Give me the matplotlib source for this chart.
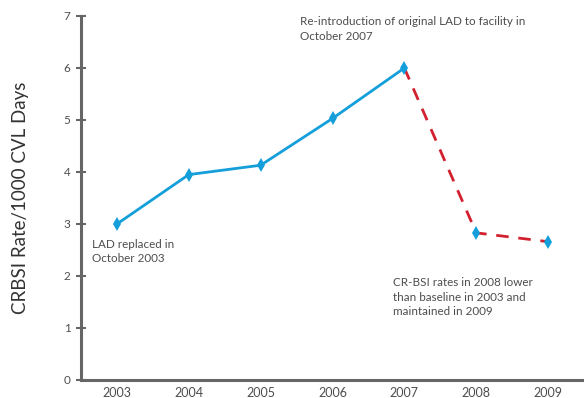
import matplotlib
matplotlib.use('Agg')
import matplotlib.pyplot as plt

plt.rcParams['font.family'] = ['Lato', 'DejaVu Sans']

# CRBSI rates per year
years = [2003, 2004, 2005, 2006, 2007, 2008, 2009]
rates = [3.0, 3.95, 4.13, 5.03, 6.0, 2.83, 2.66]
y_ticks = [0, 1, 2, 3, 4, 5, 6, 7]

blue = '#149fdb'
red = '#d3202f'
grey = '#666666'
text_col = '#4d4d4d'

fig = plt.figure(figsize=(5.84, 3.98), dpi=100)
ax = fig.add_axes([81 / 584, 18 / 398, 1 - 81 / 584, 364 / 398])

# solid segment up to the re-introduction, dashed afterwards
ax.plot(years[:5], rates[:5], '-', color=blue, lw=2.0, zorder=2)
ax.plot(years[4:], rates[4:], '--', color=red, lw=2.0, dashes=(4.5, 3.5), zorder=2)
ax.plot(years, rates, 'd', color=blue, ms=7, mew=0, zorder=3)

ax.set_xlim(2002.5, 2009.5)
ax.set_ylim(0, 7)
ax.set_xticks(years)
ax.set_yticks(y_ticks)
ax.tick_params(axis='x', length=0, pad=5, labelsize=9, labelcolor=text_col)
ax.tick_params(axis='y', direction='inout', length=7, width=1.5, color=grey,
               pad=4, labelsize=8.5, labelcolor=text_col)

for s in ['top', 'right']:
    ax.spines[s].set_visible(False)
for s in ['left', 'bottom']:
    ax.spines[s].set_color(grey)
    ax.spines[s].set_linewidth(2.2)

fig.text(21 / 584, 1 - 198 / 398, 'CRBSI Rate/1000 CVL Days', rotation=90,
         ha='center', va='center', fontsize=13.5, color='#333333')

# annotations
ax.text(2002.65, 2.72, 'LAD replaced in\nOctober 2003', ha='left', va='top',
        fontsize=8.4, color=text_col, linespacing=1.4)
ax.text(2005.55, 7.0, 'Re-introduction of original LAD to facility in\nOctober 2007',
        ha='left', va='top', fontsize=8.4, color=text_col, linespacing=1.4)
ax.text(2006.84, 1.98, 'CR-BSI rates in 2008 lower\nthan baseline in 2003 and\nmaintained in 2009',
        ha='left', va='top', fontsize=8.4, color=text_col, linespacing=1.4)

fig.savefig('out.png', dpi=100)
